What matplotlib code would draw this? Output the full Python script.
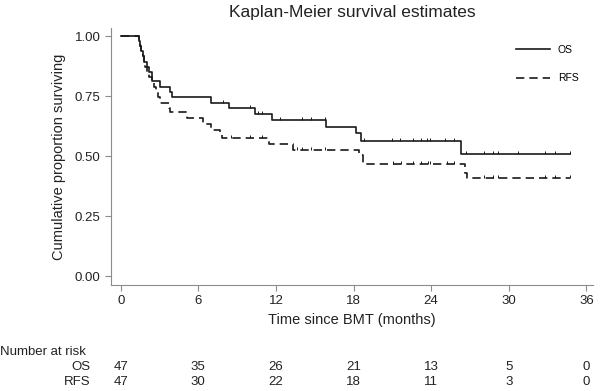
#!/usr/bin/env python3
"""Kaplan-Meier survival estimates: OS vs RFS after BMT, with number-at-risk table."""

import numpy as np
import matplotlib
matplotlib.use('Agg')
import matplotlib.pyplot as plt
import matplotlib.transforms as mtransforms
from matplotlib.path import Path

plt.rcParams['font.family'] = ['Liberation Sans', 'DejaVu Sans']

# OS step function: times where the curve drops and the level after each drop
os_times = [0, 1.4, 1.5, 1.6, 1.7, 1.8, 2.0, 2.2, 2.4, 3.0, 3.8, 3.95,
            7.0, 8.4, 10.4, 11.7, 15.85, 18.2, 18.55, 26.3]
os_surv = [1.0, 0.979, 0.957, 0.936, 0.915, 0.894, 0.872, 0.851, 0.814, 0.787,
           0.766, 0.745, 0.723, 0.700, 0.677, 0.652, 0.620, 0.596, 0.562, 0.507]
os_end = 34.7
os_censored = [7.9, 10.0, 10.6, 10.9, 12.35, 14.0, 14.7, 15.8, 18.8, 21.0, 21.6,
               22.6, 23.2, 23.7, 23.95, 25.1, 25.8, 26.7, 28.1, 28.8, 29.2,
               30.7, 32.8, 33.6, 34.7]

# RFS step function
rfs_times = [0, 1.4, 1.5, 1.6, 1.7, 1.8, 1.9, 2.0, 2.2, 2.4, 2.55, 2.7, 2.9,
             3.0, 3.7, 3.8, 5.1, 6.4, 7.0, 7.7, 7.8, 11.5, 13.3, 18.4, 18.7,
             26.6, 26.8]
rfs_surv = [1.0, 0.979, 0.957, 0.936, 0.915, 0.894, 0.872, 0.851, 0.830, 0.809,
            0.787, 0.766, 0.745, 0.723, 0.702, 0.685, 0.657, 0.632, 0.610, 0.596,
            0.574, 0.549, 0.525, 0.503, 0.467, 0.430, 0.407]
rfs_end = 34.7
rfs_censored = [8.5, 10.0, 10.9, 13.6, 14.0, 14.7, 15.8, 21.05, 21.7, 22.6, 23.2,
                23.75, 23.95, 25.2, 25.8, 28.1, 28.8, 29.2, 32.8, 33.6, 34.7]

# number at risk table
risk_times = [0, 6, 12, 18, 24, 30, 36]
os_risk = [47, 35, 26, 21, 13, 5, 0]
rfs_risk = [47, 30, 22, 18, 11, 3, 0]

LINE = '#1a1a1a'
AXIS = '#8c8c8c'
TEXT = '#222222'

# censor tick pointing up from the curve
tick_up = Path([(0, 0), (0, 1)], [Path.MOVETO, Path.LINETO])


def level_at(times, surv, t):
    idx = np.searchsorted(times, t, side='right') - 1
    return np.asarray(surv)[idx]


def draw_curve(ax, times, surv, end, censored, ls, label):
    x = list(times) + [end]
    y = list(surv) + [surv[-1]]
    ax.step(x, y, where='post', color=LINE, linewidth=1.2, linestyle=ls, label=label)
    cy = [level_at(times, surv, t) for t in censored]
    ax.plot(censored, cy, linestyle='none', marker=tick_up, markersize=5,
            markeredgewidth=0.7, color=LINE)


fig = plt.figure(figsize=(6, 3.91), dpi=100)
ax = fig.add_axes([0.185, 0.271, 0.803, 0.657])

draw_curve(ax, os_times, os_surv, os_end, os_censored, '-', 'OS')
draw_curve(ax, rfs_times, rfs_surv, rfs_end, rfs_censored, (0, (5, 3)), 'RFS')

ax.set_xlim(-0.75, 36.5)
ax.set_ylim(-0.0375, 1.033)
ax.set_xticks(risk_times)
ax.set_yticks([0, 0.25, 0.5, 0.75, 1.0])
ax.set_yticklabels([f'{v:.2f}' for v in [0, 0.25, 0.5, 0.75, 1.0]])
ax.tick_params(colors=AXIS, labelcolor=TEXT, labelsize=9.5, length=4, width=0.8)
for side in ['top', 'right']:
    ax.spines[side].set_visible(False)
for side in ['left', 'bottom']:
    ax.spines[side].set_color(AXIS)
    ax.spines[side].set_linewidth(0.8)

ax.set_xlabel('Time since BMT (months)', fontsize=10.5, color=TEXT, labelpad=4)
ax.set_ylabel('Cumulative proportion surviving', fontsize=10.5, color=TEXT, labelpad=6)
ax.set_title('Kaplan-Meier survival estimates', fontsize=12.5, color=TEXT, pad=8)

ax.legend(loc='upper right', frameon=False, fontsize=7.5, handlelength=3.2,
          bbox_to_anchor=(0.99, 0.972), labelspacing=1.8)

# number at risk table below the axis
trans = mtransforms.blended_transform_factory(ax.transData, fig.transFigure)
fig.text(0.0, 1 - 352 / 391, 'Number at risk', fontsize=9.5, color=TEXT, va='center')
fig.text(0.151, 1 - 367 / 391, 'OS', fontsize=9.5, color=TEXT, va='center', ha='right')
fig.text(0.151, 1 - 382 / 391, 'RFS', fontsize=9.5, color=TEXT, va='center', ha='right')
for t, n_os, n_rfs in zip(risk_times, os_risk, rfs_risk):
    fig.text(t, 1 - 367 / 391, str(n_os), transform=trans, fontsize=9.5,
             color=TEXT, ha='center', va='center')
    fig.text(t, 1 - 382 / 391, str(n_rfs), transform=trans, fontsize=9.5,
             color=TEXT, ha='center', va='center')

plt.savefig('out.png', dpi=100)
